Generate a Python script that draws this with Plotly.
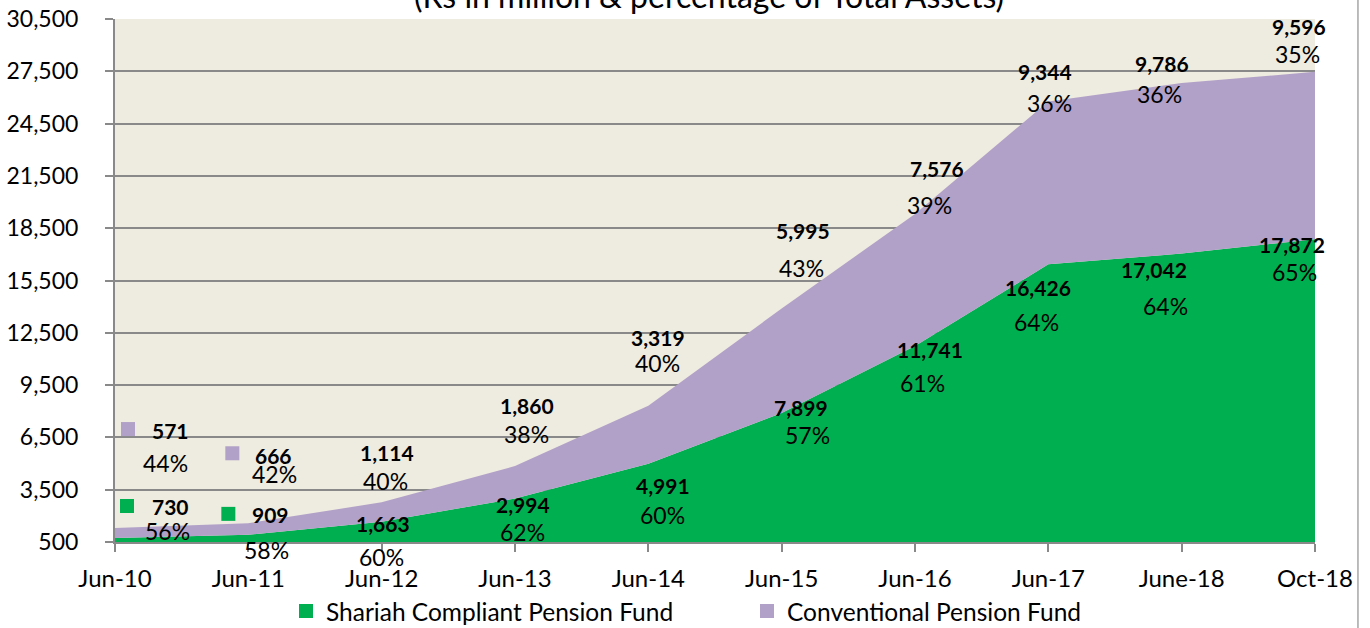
import plotly.graph_objects as go

periods = ["Jun-10", "Jun-11", "Jun-12", "Jun-13", "Jun-14", "Jun-15",
           "Jun-16", "Jun-17", "June-18", "Oct-18"]
shariah = [730, 909, 1663, 2994, 4991, 7899, 11741, 16426, 17042, 17872]
conventional = [571, 666, 1114, 1860, 3319, 5995, 7576, 9344, 9786, 9596]
shariah_pct = [56, 58, 60, 62, 60, 57, 61, 64, 64, 65]
conventional_pct = [44, 42, 40, 38, 40, 43, 39, 36, 36, 35]
y_ticks = list(range(500, 30501, 3000))

GREEN = "#00B050"
PURPLE = "#B1A0C7"
FONT = "Lato"

# label pixel offsets (dx, dy up) relative to the stacked point
sh_val_off = [(55, 31), (22, 20), (1, -2), (8, -6), (15, -22), (19, 6), (15, -3), (-10, -23), (-28, -16), (-23, -5)]
sh_pct_off = [(52, 7), (18, -15), (0, -35), (7, -33), (14, -51), (26, -22), (7, -37), (-12, -58), (-16, -52), (-21, -33)]
cv_val_off = [(55, 98), (25, 68), (5, 50), (12, 61), (10, 68), (21, 78), (22, 45), (-3, 30), (-20, 20), (-16, 45)]
cv_pct_off = [(50, 65), (26, 49), (4, 21), (11, 32), (9, 43), (20, 41), (14, 9), (1, -2), (-22, -11), (-18, 18)]

x = list(range(len(periods)))
totals = [a + b for a, b in zip(shariah, conventional)]

fig = go.Figure()
fig.add_trace(go.Scatter(x=x, y=shariah, stackgroup="s", mode="none",
                         fillcolor=GREEN, showlegend=False, hoverinfo="skip"))
fig.add_trace(go.Scatter(x=x, y=conventional, stackgroup="s", mode="none",
                         fillcolor=PURPLE, showlegend=False, hoverinfo="skip"))
# legend entries
fig.add_trace(go.Scatter(x=[None], y=[None], mode="markers", name="Shariah Compliant Pension Fund",
                         marker=dict(symbol="square", size=14, color=GREEN)))
fig.add_trace(go.Scatter(x=[None], y=[None], mode="markers", name="Conventional Pension Fund",
                         marker=dict(symbol="square", size=14, color=PURPLE)))

ann = []
for i in x:
    for val, pct, yv, voff, poff in [
        (shariah[i], shariah_pct[i], shariah[i], sh_val_off[i], sh_pct_off[i]),
        (conventional[i], conventional_pct[i], totals[i], cv_val_off[i], cv_pct_off[i]),
    ]:
        ann.append(dict(x=i, y=yv, xref="x", yref="y", text=f"<b>{val:,}</b>", showarrow=False,
                        xshift=voff[0], yshift=voff[1],
                        font=dict(family=FONT, size=21, color="#000000")))
        ann.append(dict(x=i, y=yv, xref="x", yref="y", text=f"{pct}%", showarrow=False,
                        xshift=poff[0], yshift=poff[1],
                        font=dict(family=FONT, size=23, color="#000000")))

ann.append(dict(x=0.495, y=1.004, xref="paper", yref="paper", yanchor="bottom", showarrow=False,
                text="(Rs in million & percentage of Total Assets)",
                font=dict(family=FONT, size=32, color="#000000")))

shapes = []
# small legend keys next to the first two data labels
key_off = [(0, shariah[0], 12, 32, GREEN), (0, totals[0], 13, 99, PURPLE),
           (1, shariah[1], -20, 21, GREEN), (1, totals[1], -16, 70, PURPLE)]
for xi, yv, dx, dy, col in key_off:
    shapes.append(dict(type="rect", xref="x", yref="y", xsizemode="pixel", ysizemode="pixel",
                       xanchor=xi, yanchor=yv, x0=dx - 7, x1=dx + 7, y0=dy - 7, y1=dy + 7,
                       fillcolor=col, line=dict(width=0)))
# outer chart border on the right
shapes.append(dict(type="line", xref="paper", yref="paper", x0=1.0358, x1=1.0358, y0=-0.2, y1=1.1,
                   line=dict(color="#A6A6A6", width=1.5)))

fig.update_layout(
    width=1370, height=628,
    margin=dict(l=115, r=55, t=19, b=86, autoexpand=False),
    paper_bgcolor="#FFFFFF",
    plot_bgcolor="#EEEBE0",
    font=dict(family=FONT, size=23, color="#000000"),
    annotations=ann,
    shapes=shapes,
    showlegend=True,
    legend=dict(orientation="h", traceorder="normal", x=0.1425, xanchor="left", y=-0.132,
                yanchor="middle", entrywidth=416, entrywidthmode="pixels",
                font=dict(family=FONT, size=24.5), bgcolor="rgba(0,0,0,0)", itemclick=False),
    xaxis=dict(range=[0, 9], tickvals=x, ticktext=periods, showgrid=False, zeroline=False,
               showline=True, linecolor="#898989", linewidth=2, ticks="outside", ticklen=8,
               tickcolor="#898989", tickwidth=2, ticklabelstandoff=6,
               tickfont=dict(family=FONT, size=24)),
    yaxis=dict(range=[500, 30500], tickvals=y_ticks, tickformat=",", showgrid=True,
               gridcolor="#898989", gridwidth=2, zeroline=False, showline=True,
               linecolor="#898989", linewidth=2, ticks="outside", ticklen=8,
               tickcolor="#898989", tickwidth=2, ticklabelstandoff=22,
               tickfont=dict(family=FONT, size=23)),
)

fig.write_html("out.html", config={"displayModeBar": False},
               post_script="document.body.style.margin='0';document.body.style.overflow='hidden';")
